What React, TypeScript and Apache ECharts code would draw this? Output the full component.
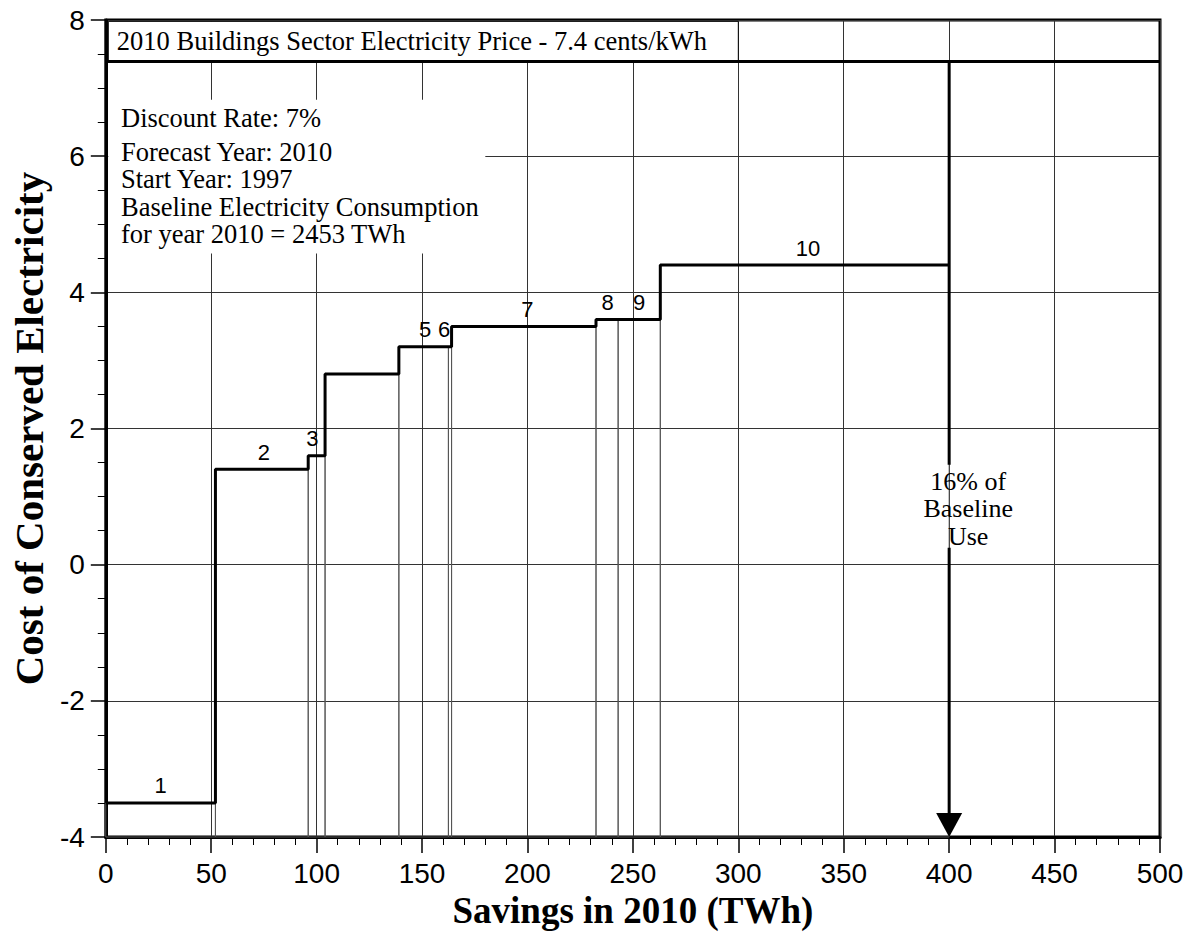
import React, { useEffect, useRef } from "react";
import * as echarts from "echarts";

// ---- data ----
const measureIds = ["1", "2", "3", "4", "5", "6", "7", "8", "9", "10"];
const savingsTWh = [52, 44, 8, 35, 23.5, 1.5, 68.5, 10.5, 20, 137];
const costCentsPerKWh = [-3.5, 1.4, 1.6, 2.8, 3.2, 3.2, 3.5, 3.6, 3.6, 4.4];
const labelAtTWh: (number | null)[] = [26, 75, 98, null, 151.5, 160.5, 200, 238, 253, 333];
const electricityPrice = 7.4;
const priceNote = "2010 Buildings Sector Electricity Price - 7.4 cents/kWh";
const assumptionLines = [
  "Discount Rate: 7%",
  "Forecast Year: 2010",
  "Start Year: 1997",
  "Baseline Electricity Consumption",
  "for year 2010 = 2453 TWh",
];
const arrowNoteLines = ["16% of", "Baseline", "Use"];
const xMin = 0, xMax = 500, xStep = 50;
const yMin = -4, yMax = 8, yStep = 2;

const SERIF = '"Liberation Serif", "Times New Roman", Times, serif';
const SANS = '"Liberation Sans", Arial, Helvetica, sans-serif';

export default function App() {
  const ref = useRef<HTMLDivElement>(null);

  useEffect(() => {
    if (!ref.current) return;
    const chart = echarts.init(ref.current, undefined, { renderer: "svg" });

    const stepPts: number[][] = [];
    const blocks: number[][] = [];
    const labels: any[] = [];
    let cum = 0;
    savingsTWh.forEach((w, i) => {
      const c = costCentsPerKWh[i];
      stepPts.push([cum, c]);
      blocks.push([cum, cum + w, c]);
      if (labelAtTWh[i] !== null) labels.push([labelAtTWh[i], c, measureIds[i]]);
      cum += w;
      stepPts.push([cum, c]);
    });
    const total = cum;

    const lineCenters = [117, 151, 178.5, 206, 233.5];

    const option: any = {
      animation: false,
      backgroundColor: "#fff",
      grid: {
        left: 104,
        right: 33,
        top: 20,
        bottom: 98,
        show: true,
        borderColor: "#000",
        borderWidth: 3,
        backgroundColor: "transparent",
      },
      xAxis: {
        type: "value",
        min: xMin,
        max: xMax,
        interval: xStep,
        name: "Savings in 2010 (TWh)",
        nameLocation: "middle",
        nameGap: 41,
        nameTextStyle: { fontFamily: SERIF, fontWeight: "bold", fontSize: 37, color: "#000" },
        axisLine: { onZero: false, lineStyle: { color: "#000", width: 3 } },
        axisTick: { length: 16, lineStyle: { color: "#000", width: 1.5 } },
        minorTick: { show: true, splitNumber: 5, length: 8, lineStyle: { color: "#000", width: 1 } },
        axisLabel: { fontFamily: SANS, fontSize: 28, color: "#000", margin: 22 },
        splitLine: { show: true, lineStyle: { color: "#333", width: 1 } },
      },
      yAxis: {
        type: "value",
        min: yMin,
        max: yMax,
        interval: yStep,
        name: "Cost of Conserved Electricity",
        nameLocation: "middle",
        nameGap: 41,
        nameTextStyle: { fontFamily: SERIF, fontWeight: "bold", fontSize: 41, color: "#000" },
        axisLine: { onZero: false, lineStyle: { color: "#000", width: 3 } },
        axisTick: { length: 15, lineStyle: { color: "#000", width: 1.5 } },
        minorTick: { show: true, splitNumber: 4, length: 8, lineStyle: { color: "#000", width: 1 } },
        axisLabel: { fontFamily: SANS, fontSize: 28, color: "#000", margin: 21 },
        splitLine: { show: true, lineStyle: { color: "#333", width: 1 } },
      },
      series: [
        {
          type: "line",
          data: [],
          z: 1,
          silent: true,
          markArea: {
            silent: true,
            data: [
              [
                {
                  xAxis: 1.2,
                  yAxis: electricityPrice,
                  itemStyle: { color: "#fff", borderColor: "#000", borderWidth: 1 },
                  label: {
                    show: true,
                    position: "insideLeft",
                    distance: 9,
                    formatter: priceNote,
                    fontFamily: SERIF,
                    fontSize: 26.5,
                    color: "#000",
                  },
                },
                { xAxis: 300, yAxis: 7.98 },
              ],
              [
                { xAxis: 1.2, yAxis: 4.57, itemStyle: { color: "#fff", borderWidth: 0 } },
                { xAxis: 180, yAxis: 6.83 },
              ],
            ],
          },
        },
        {
          type: "custom",
          z: 2,
          silent: true,
          data: blocks,
          encode: { x: [0, 1], y: 2 },
          renderItem: (params: any, api: any) => {
            const p0 = api.coord([api.value(0), yMin]);
            const p1 = api.coord([api.value(1), api.value(2)]);
            return {
              type: "rect",
              shape: { x: p0[0], y: p1[1], width: p1[0] - p0[0], height: p0[1] - p1[1] },
              style: { fill: "none", stroke: "#555", lineWidth: 1 },
            };
          },
        },
        {
          type: "line",
          z: 3,
          silent: true,
          data: stepPts,
          symbol: "none",
          lineStyle: { color: "#000", width: 3 },
          markLine: {
            silent: true,
            symbol: "none",
            label: { show: false },
            lineStyle: { color: "#000", width: 3, type: "solid" },
            data: [{ yAxis: electricityPrice }],
          },
        },
        {
          type: "custom",
          z: 4,
          silent: true,
          data: labels,
          encode: { x: 0, y: 1 },
          renderItem: (params: any, api: any) => {
            const p = api.coord([api.value(0), api.value(1)]);
            const d = labels[params.dataIndex];
            return {
              type: "text",
              style: {
                text: d[2],
                x: p[0],
                y: p[1] - 17,
                fill: "#000",
                fontFamily: SANS,
                fontSize: 22,
                align: "center",
                verticalAlign: "middle",
              },
            };
          },
        },
        {
          type: "custom",
          z: 5,
          silent: true,
          data: [[total, electricityPrice, yMin]],
          encode: { x: 0, y: [1, 2] },
          renderItem: (params: any, api: any) => {
            const top = api.coord([api.value(0), api.value(1)]);
            const bot = api.coord([api.value(0), api.value(2)]);
            const mid = api.coord([api.value(0), 0.82]);
            const ah = 24, aw = 13;
            const gapTop = mid[1] - 44, gapBot = mid[1] + 39;
            const lh = 27.5;
            return {
              type: "group",
              children: [
                {
                  type: "line",
                  shape: { x1: top[0], y1: top[1], x2: top[0], y2: gapTop },
                  style: { stroke: "#000", lineWidth: 3 },
                },
                {
                  type: "line",
                  shape: { x1: bot[0], y1: gapBot, x2: bot[0], y2: bot[1] - ah + 2 },
                  style: { stroke: "#000", lineWidth: 3 },
                },
                {
                  type: "polygon",
                  shape: { points: [[bot[0] - aw, bot[1] - ah], [bot[0] + aw, bot[1] - ah], [bot[0], bot[1]]] },
                  style: { fill: "#000" },
                },
                ...arrowNoteLines.map((t, k) => ({
                  type: "text",
                  style: {
                    text: t,
                    x: mid[0] + 19,
                    y: mid[1] + (k - 1) * lh,
                    fill: "#000",
                    fontFamily: SERIF,
                    fontSize: 26,
                    align: "center",
                    verticalAlign: "middle",
                  },
                })),
              ],
            };
          },
        },
      ],
      graphic: assumptionLines.map((t, i) => ({
        type: "text",
        z: 100,
        left: 121,
        top: lineCenters[i] - 13,
        silent: true,
        style: { text: t, fill: "#000", fontFamily: SERIF, fontSize: 26.5 },
      })),
    };

    chart.setOption(option);
    return () => chart.dispose();
  }, []);

  return (
    <div
      ref={ref}
      style={{ position: "fixed", left: 0, top: 0, width: 1193, height: 935, background: "#fff" }}
    />
  );
}
